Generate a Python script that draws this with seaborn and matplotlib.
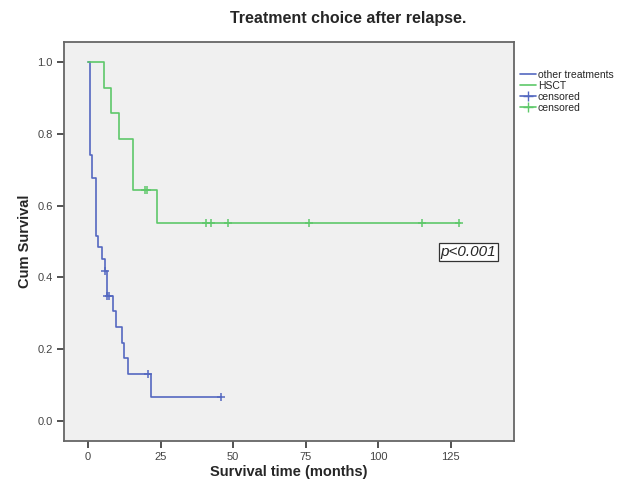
import numpy as np
import pandas as pd
import seaborn as sns
import matplotlib.pyplot as plt
from matplotlib.lines import Line2D

# Kaplan-Meier step values
other_time = [0, 0.6, 1.5, 2.6, 3.5, 4.7, 5.9, 6.4, 8.5, 9.6, 11.6, 12.5, 13.7, 21.6, 45.7]
other_surv = [1.0, 0.742, 0.677, 0.516, 0.484, 0.452, 0.419, 0.349, 0.305, 0.262, 0.218, 0.175, 0.131, 0.066, 0.066]
other_cens_time = [5.7, 6.4, 7.3, 20.8, 45.7]
other_cens_surv = [0.419, 0.349, 0.349, 0.131, 0.066]

hsct_time = [0, 5.6, 7.8, 10.7, 15.6, 23.6, 128]
hsct_surv = [1.0, 0.929, 0.857, 0.786, 0.643, 0.551, 0.551]
hsct_cens_time = [19.6, 20.4, 40.5, 42.4, 48.3, 76.2, 115, 127.9]
hsct_cens_surv = [0.643, 0.643, 0.551, 0.551, 0.551, 0.551, 0.551, 0.551]

blue = '#5468c0'
green = '#5ec86a'

sns.set_style("white", {"axes.facecolor": "#f0f0f0"})
plt.rcParams['font.family'] = ['Liberation Sans', 'DejaVu Sans']

fig = plt.figure(figsize=(6.22, 4.82), dpi=100)
ax = fig.add_axes([0.103, 0.085, 0.723, 0.828])

sns.lineplot(x=other_time, y=other_surv, drawstyle='steps-post', color=blue, lw=1.2, ax=ax)
sns.lineplot(x=hsct_time, y=hsct_surv, drawstyle='steps-post', color=green, lw=1.2, ax=ax)
sns.scatterplot(x=other_cens_time, y=other_cens_surv, marker='+', color=blue, s=40, linewidth=1.1, ax=ax)
sns.scatterplot(x=hsct_cens_time, y=hsct_cens_surv, marker='+', color=green, s=40, linewidth=1.1, ax=ax)

ax.set_xlim(-8.3, 146.7)
ax.set_ylim(-0.056, 1.056)
ax.set_xticks([0, 25, 50, 75, 100, 125])
ax.set_yticks([0.0, 0.2, 0.4, 0.6, 0.8, 1.0])
ax.set_yticklabels(['0.0', '0.2', '0.4', '0.6', '0.8', '1.0'])
ax.tick_params(bottom=True, left=True, direction='out', length=5, width=1.2, color='#333333',
               labelsize=8, labelcolor='#444444', pad=3)
for sp in ax.spines.values():
    sp.set_color('#666666')
    sp.set_linewidth(1.3)

ax.set_xlabel('Survival time (months)', fontsize=10.5, fontweight='bold', labelpad=2)
ax.set_ylabel('Cum Survival', fontsize=10.5, fontweight='bold', labelpad=4)
fig.text(0.559, 0.962, 'Treatment choice after relapse.', fontsize=11.5, fontweight='bold', ha='center', va='center')

ax.text(131, 0.47, 'p<0.001', fontsize=11, style='italic', ha='center', va='center',
        bbox=dict(boxstyle='square,pad=0.12', facecolor='white', edgecolor='#333333', lw=0.9))

handles = [
    Line2D([], [], color=blue, lw=1.2),
    Line2D([], [], color=green, lw=1.2),
    Line2D([], [], color=blue, lw=1.2, marker='+', markersize=7),
    Line2D([], [], color=green, lw=1.2, marker='+', markersize=7),
]
labels = ['other treatments', 'HSCT', 'censored', 'censored']
fig.legend(handles, labels, loc='upper left', bbox_to_anchor=(0.826, 0.868), frameon=False,
           fontsize=7.5, handlelength=1.5, handletextpad=0.2, labelspacing=0.1, borderpad=0.1)

fig.savefig('out.png', dpi=100)
